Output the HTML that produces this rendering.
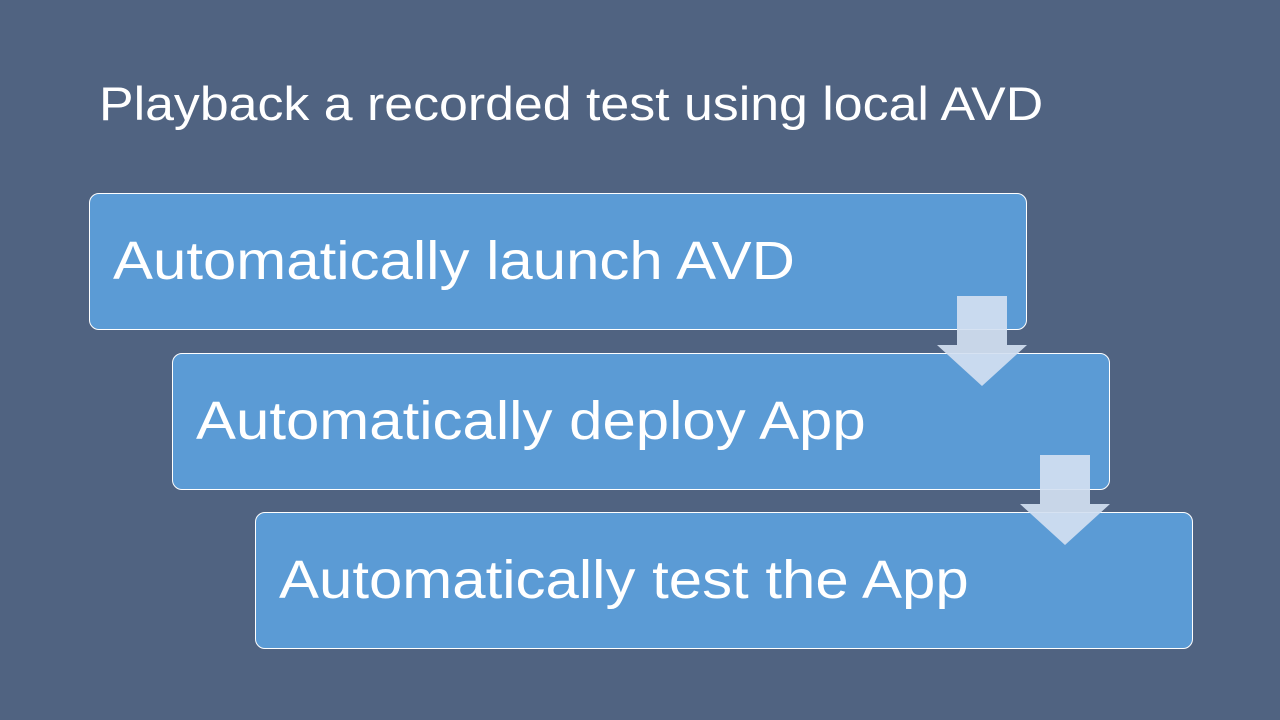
<!DOCTYPE html>
<html><head><style>
body{margin:0;width:1280px;height:720px;background:#506381;position:relative;overflow:hidden;font-family:"Liberation Sans",sans-serif;color:#fff}
.t{position:absolute;left:99px;top:76px;font-size:47px;white-space:nowrap;transform:scaleX(1.103);transform-origin:left center}
.b{position:absolute;width:938px;height:137px;background:#5B9BD5;border:1px solid #fff;border-radius:10px;box-sizing:border-box;font-size:54px;line-height:135px;padding-left:23px;white-space:nowrap}
.b span{display:inline-block;transform:scaleX(1.11);transform-origin:left center}
svg{position:absolute;left:0;top:0}
</style></head><body>
<div class="t">Playback a recorded test using local AVD</div>
<div class="b" style="left:89px;top:193px"><span>Automatically launch AVD</span></div>
<div class="b" style="left:172px;top:353px"><span>Automatically deploy App</span></div>
<div class="b" style="left:255px;top:512px"><span>Automatically test the App</span></div>
<svg width="1280" height="720">
<polygon points="957,296 1007,296 1007,345 1027,345 982,386 937,345 957,345" fill="#D2E0F1" fill-opacity="0.92"/>
<polygon points="1040,455 1090,455 1090,504 1110,504 1065,545 1020,504 1040,504" fill="#D2E0F1" fill-opacity="0.92"/>
</svg>
</body></html>
